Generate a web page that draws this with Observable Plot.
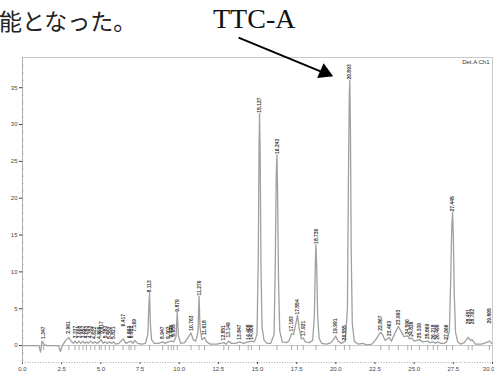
<!DOCTYPE html>
<html><head><meta charset="utf-8">
<script src="https://cdn.jsdelivr.net/npm/d3@7"></script>
<script src="https://cdn.jsdelivr.net/npm/@observablehq/plot@0.6"></script>
<style>
body{margin:0;background:#fff;}
#wrap{position:relative;width:494px;height:376px;overflow:hidden;}
.jp{position:absolute;left:-1px;top:9px;line-height:23px;font-family:"Noto Sans CJK JP";font-size:23px;color:#222;white-space:nowrap;}
.ttc{position:absolute;left:213px;top:5px;line-height:28px;font-family:"Liberation Serif";font-size:28px;color:#111;white-space:nowrap;}
#chart{position:absolute;left:0;top:0;}
</style></head>
<body>
<div id="wrap">
<div id="chart"></div>
<div class="jp">能となった。</div>
<div class="ttc">TTC-A</div>
</div>
<script>
// Chromatogram trace (time in min, signal)
const traceT = [0.0,1.05,1.15,1.25,1.4,1.6,2.3,2.42,2.55,2.75,2.95,3.1,3.25,3.35,3.48,3.6,3.73,3.86,3.98,4.08,4.2,4.35,4.5,4.62,4.75,4.9,5.02,5.15,5.28,5.4,5.55,5.68,5.82,5.95,6.15,6.42,6.6,6.8,6.93,7.05,7.17,7.35,7.6,7.85,8.0,8.06,8.11,8.16,8.24,8.4,8.7,8.95,9.1,9.3,9.5,9.65,9.8,9.88,9.95,10.1,10.35,10.6,10.75,10.9,11.05,11.2,11.27,11.33,11.45,11.62,11.75,12.0,12.4,12.85,13.0,13.15,13.35,13.6,13.85,14.1,14.4,14.6,14.8,14.97,15.05,15.1,15.13,15.17,15.22,15.29,15.42,15.6,15.85,16.06,16.14,16.2,16.24,16.28,16.34,16.42,16.58,16.85,17.0,17.18,17.3,17.45,17.55,17.65,17.8,17.92,18.05,18.3,18.52,18.63,18.69,18.73,18.78,18.84,18.93,19.1,19.4,19.7,19.85,19.99,20.15,20.35,20.6,20.74,20.81,20.86,20.89,20.93,20.98,21.05,21.18,21.4,21.7,22.0,22.3,22.55,22.75,22.87,23.0,23.15,23.4,23.55,23.8,23.99,24.15,24.35,24.59,24.7,24.83,25.0,25.33,25.55,25.87,26.0,26.22,26.35,26.5,26.7,26.9,27.07,27.25,27.33,27.4,27.45,27.5,27.56,27.64,27.78,27.95,28.2,28.45,28.6,28.7,28.9,29.3,29.6,29.8,29.95];
const traceV = [0,0,-0.9,0.6,0.1,0,0,-0.8,0,0.7,1.1,0.6,0.3,0.6,0.3,0.6,0.3,0.6,0.3,0.5,0.3,0.6,0.3,0.5,0.3,0.5,0.8,0.3,0.5,0.3,0.5,0.3,0.5,0.2,0.3,0.9,0.3,0.5,0.6,0.3,0.7,0.3,0.2,0.3,1.5,5.0,7.1,3.0,0.8,0.3,0.3,0.5,0.3,0.5,0.6,0.5,1.2,4.5,1.3,0.3,0.4,1.2,1.7,0.8,0.6,1.8,6.7,2.5,0.8,1.1,0.5,0.2,0.2,0.4,0.2,0.6,0.3,0.3,0.5,0.3,0.5,0.6,0.5,1.5,12,27,31.5,26,11,2.5,0.7,0.3,0.3,1.5,12,23.5,25.9,21,9,2.0,0.5,0.4,0.6,1.6,1.5,3.0,4.1,2.5,0.9,1.0,0.5,0.4,0.7,4,11,13.7,10.5,4,1.0,0.3,0.2,0.4,0.8,1.3,0.6,0.3,0.6,5,24,34,36,30,13,3,0.6,0.2,0.3,0.1,0.2,0.8,1.5,1.8,1.4,0.7,1.1,0.6,1.8,2.6,2.0,1.2,1.3,0.9,1.0,0.6,0.8,0.5,0.6,0.4,0.5,0.3,0.5,0.3,0.3,0.5,2.0,9,16,18.1,15,7,1.8,0.5,0.2,0.4,1.1,0.7,0.8,0.2,0.2,0.4,0.6,0.3];

// Peak labels: retention time text, position (min), label base height
const peakText = ["1.347","2.961","3.337","3.608","3.857","4.083","4.352","4.622","4.899","5.017","5.283","5.552","5.821","6.417","6.803","6.932","7.169","8.113","8.947","9.302","9.498","9.655","9.879","10.763","11.270","11.618","12.851","13.149","13.847","14.408","14.606","15.127","16.243","17.183","17.554","17.921","18.730","19.991","20.555","20.893","22.867","23.403","23.993","24.590","24.826","25.330","25.869","26.218","26.498","27.066","27.445","28.451","28.702","29.805"];
const peakTime = [1.35,2.96,3.35,3.61,3.86,4.08,4.35,4.62,4.90,5.02,5.28,5.55,5.82,6.42,6.80,6.93,7.17,8.11,8.95,9.30,9.50,9.65,9.88,10.76,11.27,11.62,12.85,13.15,13.85,14.41,14.61,15.13,16.24,17.18,17.55,17.92,18.73,19.99,20.55,20.89,22.87,23.40,23.99,24.59,24.83,25.33,25.87,26.22,26.50,27.07,27.45,28.45,28.70,29.80];
const peakBase = [0.9,1.6,1.0,1.0,1.0,1.0,1.0,0.9,0.9,1.6,1.0,0.9,0.9,2.6,1.0,1.0,1.9,7.2,0.9,0.9,1.1,1.2,4.6,2.0,6.8,1.4,0.7,1.1,0.8,0.8,0.8,31.6,26.0,1.9,4.2,1.3,13.8,1.6,0.7,36.1,2.0,1.3,2.8,1.5,1.2,1.0,0.9,0.8,0.8,0.8,18.2,2.9,2.9,3.0];

const xTicks = [0,2.5,5,7.5,10,12.5,15,17.5,20,22.5,25,27.5,30];
const yTicks = [0,5,10,15,20,25,30,35];
const yMinor = d3.range(-2,39,1);
const xDomain = [0,30];
const yDomain = [-2.3,39.1];

// Annotation arrow (data coordinates)
const arrowFrom = {t:13.79, v:41.8};
const arrowTo = {t:19.72, v:36.6};

const trace = traceT.map((t,i)=>({t, v:traceV[i]}));
const peaks = peakText.map((label,i)=>({label, t:peakTime[i], v:peakBase[i]}));
const arrow = [{x1:arrowFrom.t, y1:arrowFrom.v, x2:arrowTo.t, y2:arrowTo.v}];
const ang = Math.atan2(41, 94)*180/Math.PI;

const chart = Plot.plot({
  width: 494, height: 376,
  marginTop: 57, marginLeft: 22, marginRight: 2, marginBottom: 14,
  style: {fontSize: "6px", fontFamily: "Liberation Sans, Arial, sans-serif", color: "#444", background: "transparent", overflow: "visible"},
  x: {domain: xDomain, ticks: xTicks, tickFormat: d => d.toFixed(1), tickSize: 2, tickPadding: 2, label: null},
  y: {domain: yDomain, ticks: yTicks, tickSize: 3, tickPadding: 2, label: null},
  marks: [
    Plot.ruleY([yDomain[1]], {stroke: "#bbb", strokeWidth: 0.8}),
    Plot.ruleX([xDomain[1]], {stroke: "#bbb", strokeWidth: 0.8}),
    Plot.ruleX([xDomain[0]], {stroke: "#999", strokeWidth: 0.8}),
    Plot.ruleY([yDomain[0]], {stroke: "#999", strokeWidth: 0.8, strokeDasharray: "1,1.6"}),
    Plot.ruleY(yMinor, {x1: 0, x2: 0.1, stroke: "#999", strokeWidth: 0.6}),
    Plot.ruleY([0], {stroke: "#bbb", strokeWidth: 0.8}),
    Plot.ruleX(peaks, {x: "t", y1: 0, y2: -0.7, stroke: "#777", strokeWidth: 0.6}),
    Plot.line(trace, {x: "t", y: "v", stroke: "#a0a0a0", strokeWidth: 1.3, curve: "linear"}),
    Plot.text(peaks, {x: "t", y: "v", text: "label", rotate: -90, textAnchor: "start", fontSize: 5, fontWeight: "bold", fill: "#333"}),
    Plot.text(["Det.A Ch1"], {frameAnchor: "top-right", dx: -3, dy: 2, fontSize: 6, fill: "#333"}),
    Plot.link(arrow, {x1: "x1", y1: "y1", x2: "x2", y2: "y2", stroke: "#000", strokeWidth: 2}),
    Plot.dot(arrow, {x: "x2", y: "y2", symbol: "triangle", r: 6, fill: "#000", stroke: "none", rotate: 90 + ang, dx: -8.5*Math.cos(ang*Math.PI/180)+1, dy: -8.5*Math.sin(ang*Math.PI/180)})
  ]
});
document.getElementById("chart").appendChild(chart);
d3.select(chart).selectAll("text").filter(function(){return this.textContent === "30.0";}).attr("text-anchor","end").attr("dx","2");
</script>
</body></html>
